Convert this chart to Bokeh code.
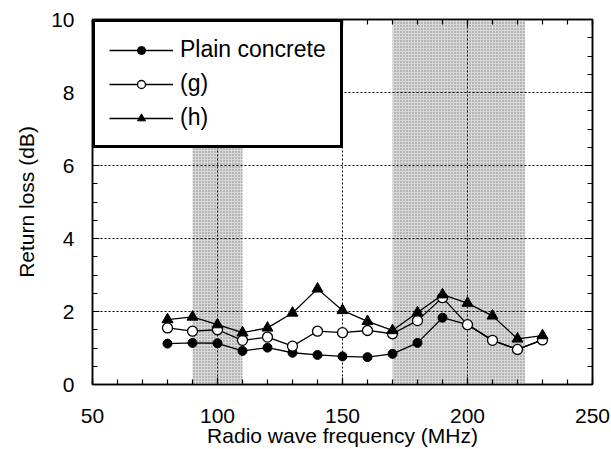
from bokeh.plotting import figure
from bokeh.models import Range1d, SingleIntervalTicker, LinearAxis, ColumnDataSource, CustomJSTickFormatter
from bokeh.embed import file_html
from bokeh.resources import INLINE

freq = [80, 90, 100, 110, 120, 130, 140, 150, 160, 170, 180, 190, 200, 210, 220, 230]
plain = [1.12, 1.14, 1.13, 0.92, 1.01, 0.87, 0.81, 0.77, 0.75, 0.84, 1.14, 1.83, 1.64, 1.21, 0.96, 1.22]
g_vals = [1.55, 1.46, 1.50, 1.21, 1.30, 1.05, 1.46, 1.42, 1.48, 1.39, 1.75, 2.38, 1.64, 1.21, 0.96, 1.22]
h_vals = [1.78, 1.85, 1.64, 1.42, 1.55, 1.96, 2.62, 2.03, 1.73, 1.48, 1.97, 2.46, 2.23, 1.88, 1.25, 1.34]

band_start = [90, 170]
band_end = [110, 223]

x_ticks_major = 50
y_ticks_major = 2

FONT = "Liberation Sans"

p = figure(width=611, height=449, output_backend="svg", toolbar_location=None,
           x_range=Range1d(50, 250), y_range=Range1d(0, 10),
           min_border_left=92, min_border_right=19, min_border_top=19, min_border_bottom=65)

p.outline_line_color = "black"
p.outline_line_width = 1.5

# shaded bands
p.quad(left=band_start, right=band_end, bottom=0, top=10,
       fill_color="#d9d9d9", line_color=None,
       hatch_pattern="dot", hatch_color="#808080", hatch_scale=3, hatch_weight=1,
       level="image")

# axes
p.xaxis.ticker = SingleIntervalTicker(interval=x_ticks_major, num_minor_ticks=5)
p.yaxis.ticker = SingleIntervalTicker(interval=y_ticks_major, num_minor_ticks=4)
for ax in (p.xaxis[0], p.yaxis[0]):
    ax.major_tick_out = 0
    ax.major_tick_in = 7
    ax.minor_tick_out = 0
    ax.minor_tick_in = 5
    ax.axis_line_width = 1.5
    ax.major_tick_line_width = 1.2
    ax.minor_tick_line_width = 1.2
    ax.major_label_text_font = FONT
    ax.major_label_text_font_size = "21px"
    ax.major_label_text_color = "black"
    ax.axis_label_text_font = FONT
    ax.axis_label_text_font_size = "21px"
    ax.axis_label_text_font_style = "normal"
    ax.axis_label_text_color = "black"

p.xaxis.axis_label = "Radio wave frequency (MHz)"
p.yaxis.axis_label = "Return loss (dB)"
p.xaxis.major_label_standoff = 24
p.xaxis.axis_label_standoff = -2
p.yaxis.major_label_standoff = 18
p.yaxis.axis_label_standoff = 10

# top & right axes (ticks only, no labels)
blank = CustomJSTickFormatter(code="return '';")
top = LinearAxis(ticker=SingleIntervalTicker(interval=x_ticks_major, num_minor_ticks=5),
                 formatter=blank, major_tick_out=0, major_tick_in=7,
                 minor_tick_out=0, minor_tick_in=5, axis_line_width=1.5, major_label_standoff=0,
                 major_tick_line_width=1.2, minor_tick_line_width=1.2)
right = LinearAxis(ticker=SingleIntervalTicker(interval=y_ticks_major, num_minor_ticks=4),
                   formatter=blank, major_tick_out=0, major_tick_in=7,
                   minor_tick_out=0, minor_tick_in=5, axis_line_width=1.5, major_label_standoff=0,
                   major_tick_line_width=1.2, minor_tick_line_width=1.2)
p.add_layout(top, "above")
p.add_layout(right, "right")

# grid
p.xgrid.ticker = SingleIntervalTicker(interval=x_ticks_major)
p.ygrid.ticker = SingleIntervalTicker(interval=y_ticks_major)
for gr in (p.xgrid[0], p.ygrid[0]):
    gr.grid_line_color = "black"
    gr.grid_line_dash = "2 2"
    gr.grid_line_width = 1

src = ColumnDataSource(dict(freq=freq, plain=plain, g=g_vals, h=h_vals))

p.line("freq", "plain", source=src, line_color="black", line_width=1.3, legend_label="Plain concrete")
p.scatter("freq", "plain", source=src, marker="circle", size=9, fill_color="black",
          line_color="black", legend_label="Plain concrete")
p.line("freq", "g", source=src, line_color="black", line_width=1.3, legend_label="(g)")
p.scatter("freq", "g", source=src, marker="circle", size=10, fill_color="white",
          line_color="black", line_width=1.3, legend_label="(g)")
p.line("freq", "h", source=src, line_color="black", line_width=1.3, legend_label="(h)")
p.scatter("freq", "h", source=src, marker="triangle", size=11, fill_color="black",
          line_color="black", legend_label="(h)")

lg = p.legend[0]
lg.location = "top_left"
lg.margin = 0
lg.padding = 14
lg.spacing = 7
lg.glyph_width = 64
lg.glyph_height = 20
lg.label_height = 20
lg.label_standoff = 7
lg.label_text_font = FONT
lg.label_text_font_size = "23px"
lg.label_text_color = "black"
lg.border_line_color = "black"
lg.border_line_alpha = 1.0
lg.border_line_width = 3.5
lg.background_fill_color = "white"
lg.background_fill_alpha = 1.0

open("out.html", "w").write(file_html(p, INLINE))
